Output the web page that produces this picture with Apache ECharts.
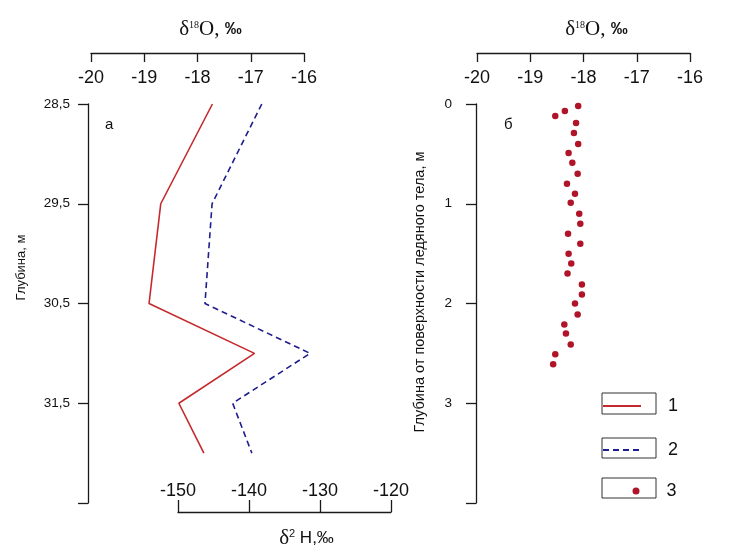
<!DOCTYPE html>
<html>
<head>
<meta charset="utf-8">
<script src="https://cdn.jsdelivr.net/npm/echarts@6/dist/echarts.min.js"></script>
<style>html,body{margin:0;padding:0;background:#fff;}#c{width:730px;height:560px;}</style>
</head>
<body>
<div id="c"></div>
<script>
// Panel а: depth section 28.5–32.0 m
const depthA = [28.5, 29.5, 30.5, 31.0, 31.5, 32.0];
const d18O_A = [-17.72, -18.69, -18.91, -16.93, -18.35, -17.88];
const d2H_A  = [-138.2, -145.2, -146.2, -131.4, -142.3, -139.6];
// Panel б: depth below the ice body surface, m
const depthB = [0.02, 0.07, 0.12, 0.19, 0.29, 0.40, 0.49, 0.59, 0.70, 0.80, 0.90, 0.99, 1.10, 1.20,
                1.30, 1.40, 1.50, 1.60, 1.70, 1.81, 1.91, 2.00, 2.11, 2.21, 2.30, 2.41, 2.51, 2.61];
const d18O_B = [-18.10, -18.35, -18.53, -18.14, -18.18, -18.10, -18.28, -18.21, -18.11, -18.31, -18.16,
                -18.24, -18.08, -18.06, -18.29, -18.06, -18.28, -18.23, -18.30, -18.03, -18.03, -18.16,
                -18.11, -18.36, -18.33, -18.24, -18.53, -18.57];
const o18Ticks = [-20, -19, -18, -17, -16];
const h2Ticks = [-150, -140, -130, -120];
const depthAStart = 28.5;
const legendNames = ['1', '2', '3'];

const RED = '#c42a2c', BLUE = '#1e1e8e', DOT = '#b01428', AX = '#1a1a1a';
const sans = 'Liberation Sans, Arial, sans-serif';
const serif = 'Liberation Serif, Times New Roman, serif';

const titleRich = {
  d: {fontFamily: serif, fontSize: 21, color: '#111'},
  s: {fontFamily: serif, fontSize: 10, color: '#111', padding: [0, 0, 9, 0]},
  o: {fontFamily: serif, fontSize: 21, color: '#111'},
  p: {fontFamily: sans, fontSize: 17, fontWeight: 'bold', color: '#111'}
};
const o18Name = '{d|δ}{s|18}{o|O, }{p|‰}';

function topAxis(gridIndex) {
  return {
    gridIndex, type: 'value', position: 'top', offset: 51,
    min: o18Ticks[0], max: o18Ticks[o18Ticks.length - 1], interval: 1,
    name: o18Name, nameLocation: 'middle', nameGap: 13,
    nameTextStyle: {rich: titleRich, padding: [0, 0, 0, 26]},
    axisLine: {show: true, onZero: false, lineStyle: {color: AX, width: 1.3}},
    axisTick: {show: true, inside: true, length: 9, lineStyle: {color: AX, width: 1.3}},
    axisLabel: {inside: true, margin: 16, fontSize: 18, fontFamily: sans, color: '#111'},
    splitLine: {show: false}
  };
}

const legendText = {fontSize: 18, fontFamily: sans, color: '#111', padding: [0, 0, 0, 22]};

const option = {
  animation: false,
  backgroundColor: '#fff',
  grid: [
    {left: 91, top: 104, width: 213, height: 399},
    {left: 178, top: 104, width: 213, height: 399},
    {left: 477, top: 104, width: 213, height: 399}
  ],
  xAxis: [
    topAxis(0),
    {
      gridIndex: 1, type: 'value', position: 'bottom', offset: 9,
      min: h2Ticks[0], max: h2Ticks[h2Ticks.length - 1], interval: 10,
      name: '{d|δ}{s|2}{h| H,‰}', nameLocation: 'middle', nameGap: 16,
      nameTextStyle: {padding: [0, 0, 0, 44], rich: {
        d: {fontFamily: serif, fontSize: 21, color: '#111'},
        s: {fontFamily: sans, fontSize: 11, color: '#111', padding: [0, 0, 9, 0]},
        h: {fontFamily: sans, fontSize: 17, color: '#111'}
      }},
      axisLine: {show: true, onZero: false, lineStyle: {color: AX, width: 1.3}},
      axisTick: {show: true, inside: true, length: 12, lineStyle: {color: AX, width: 1.3}},
      axisLabel: {inside: true, margin: 12, fontSize: 18, fontFamily: sans, color: '#111'},
      splitLine: {show: false}
    },
    topAxis(2)
  ],
  yAxis: [
    {
      gridIndex: 0, type: 'value', inverse: true, min: 0, max: 4, interval: 1, offset: 3,
      name: 'Глубина, м', nameLocation: 'middle', nameGap: 60,
      nameTextStyle: {fontFamily: sans, fontSize: 13, color: '#111', padding: [0, 0, 0, 72]},
      axisLine: {show: true, onZero: false, lineStyle: {color: AX, width: 1.3}},
      axisTick: {show: true, length: 10, lineStyle: {color: AX, width: 1.3}},
      axisLabel: {margin: 18, fontSize: 13.5, fontFamily: sans, color: '#111',
        formatter: v => v >= 4 ? '' : (v + depthAStart).toFixed(1).replace('.', ',')},
      splitLine: {show: false}
    },
    {
      gridIndex: 1, type: 'value', inverse: true, min: 0, max: 4, show: false
    },
    {
      gridIndex: 2, type: 'value', inverse: true, min: 0, max: 4, interval: 1, offset: 1,
      name: 'Глубина от поверхности ледяного тела, м', nameLocation: 'middle', nameGap: 49,
      nameTextStyle: {fontFamily: sans, fontSize: 14.5, color: '#111', padding: [0, 0, 0, 23]},
      axisLine: {show: true, onZero: false, lineStyle: {color: AX, width: 1.3}},
      axisTick: {show: true, length: 10, lineStyle: {color: AX, width: 1.3}},
      axisLabel: {margin: 24, fontSize: 13.5, fontFamily: sans, color: '#111',
        formatter: v => v >= 4 ? '' : String(v)},
      splitLine: {show: false}
    }
  ],
  legend: [
    {data: [legendNames[0]], left: 602, top: 397, padding: 0, itemWidth: 38, itemHeight: 14,
     itemStyle: {opacity: 0}, textStyle: legendText, selectedMode: false},
    {data: [legendNames[1]], left: 602, top: 441, padding: 0, itemWidth: 38, itemHeight: 14,
     itemStyle: {opacity: 0}, textStyle: legendText, selectedMode: false},
    {data: [{name: legendNames[2], icon: 'circle'}], left: 632.5, top: 482, padding: 0, itemWidth: 7, itemHeight: 7,
     itemStyle: {opacity: 1}, textStyle: legendText, selectedMode: false}
  ],
  graphic: [
    {type: 'rect', shape: {x: 602, y: 393, width: 54, height: 21}, style: {fill: 'none', stroke: '#333', lineWidth: 1}, silent: true},
    {type: 'rect', shape: {x: 602, y: 438, width: 54, height: 20}, style: {fill: 'none', stroke: '#333', lineWidth: 1}, silent: true},
    {type: 'rect', shape: {x: 602, y: 478, width: 54, height: 20}, style: {fill: 'none', stroke: '#333', lineWidth: 1}, silent: true},
    {type: 'text', left: 105, top: 117, style: {text: 'а', fontSize: 15, fontFamily: sans, fill: '#111'}},
    {type: 'text', left: 504, top: 117, style: {text: 'б', fontSize: 15, fontFamily: sans, fill: '#111'}}
  ],
  series: [
    {
      name: legendNames[0], type: 'line', xAxisIndex: 0, yAxisIndex: 0, symbol: 'none', clip: false,
      lineStyle: {color: RED, width: 1.6}, itemStyle: {color: RED},
      data: depthA.map((d, i) => [d18O_A[i], d - depthAStart])
    },
    {
      name: legendNames[1], type: 'line', xAxisIndex: 1, yAxisIndex: 1, symbol: 'none', clip: false,
      lineStyle: {color: BLUE, width: 1.6, type: [6, 4]}, itemStyle: {color: BLUE},
      data: depthA.map((d, i) => [d2H_A[i], d - depthAStart])
    },
    {
      name: legendNames[2], type: 'scatter', xAxisIndex: 2, yAxisIndex: 2, symbol: 'circle', symbolSize: 6.5,
      itemStyle: {color: DOT, opacity: 1},
      data: depthB.map((d, i) => [d18O_B[i], d])
    }
  ]
};
const chart = echarts.init(document.getElementById('c'), null, {renderer: 'canvas'});
chart.setOption(option);
</script>
</body>
</html>
